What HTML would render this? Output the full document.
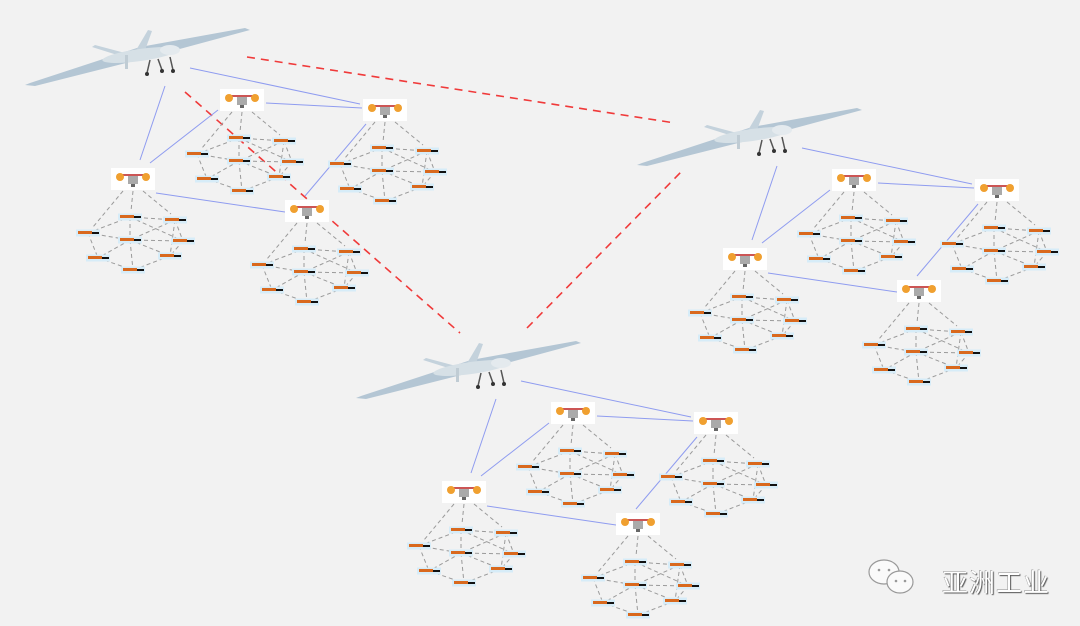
<!DOCTYPE html>
<html><head><meta charset="utf-8"><style>
html,body{margin:0;padding:0;background:#f2f2f2;width:1080px;height:626px;overflow:hidden}
svg{display:block}
.wm{position:absolute;left:942px;top:563px;font-family:"Liberation Sans","Noto Sans CJK SC",sans-serif;font-size:26px;color:#fff;text-shadow:1px 1px 1px #555,-0.5px -0.5px 0 #888;letter-spacing:1px}
</style></head><body>
<svg id="s" width="1080" height="626" xmlns="http://www.w3.org/2000/svg">
<defs>
<g id="plane">
 <polygon points="-105,30 -100,28 10,-8 115,-27 120,-25 20,2 -95,31" fill="#b4c6d4"/>
 <polygon points="-35,-10 -5,-2 0,4 -38,-8" fill="#c4d2dc"/>
 <polygon points="5,-3 18,-25 22,-24 14,-2" fill="#c4d2dc"/>
 <ellipse cx="10" cy="0" rx="38" ry="6" fill="#d6e0e6" transform="rotate(-8 10 0)"/>
 <ellipse cx="40" cy="-5" rx="10" ry="5" fill="#e4eaee"/>
 <line x1="20" y1="5" x2="17" y2="18" stroke="#555" stroke-width="1.5"/>
 <line x1="28" y1="4" x2="32" y2="15" stroke="#555" stroke-width="1.5"/>
 <line x1="40" y1="2" x2="43" y2="15" stroke="#555" stroke-width="1.5"/>
 <circle cx="17" cy="19" r="2" fill="#333"/><circle cx="32" cy="16" r="2" fill="#333"/><circle cx="43" cy="16" r="2" fill="#333"/>
 <rect x="-5" y="0" width="3" height="14" fill="#c0ccd4"/>
</g>
<g id="quad">
 <rect x="-22" y="-11" width="44" height="22" fill="#fff"/>
 <rect x="-16" y="-5" width="32" height="2" fill="#c55"/>
 <circle cx="-13" cy="-2" r="4" fill="#f0a030"/><circle cx="13" cy="-2" r="4" fill="#f0a030"/>
 <rect x="-5" y="-3" width="10" height="8" fill="#aaa"/>
 <rect x="-2" y="5" width="4" height="3" fill="#666"/>
</g>
<g id="bot">
 <rect x="-12" y="-3.5" width="24" height="7" fill="#d6ecf8"/>
 <rect x="-10" y="-2" width="14" height="3" fill="#d9691e"/>
 <rect x="4" y="-1" width="7" height="2" fill="#111"/>
</g>
</defs>
<g id="root"></g>
<g fill="#fafafa" stroke="#999" stroke-width="1.2">
 <ellipse cx="884" cy="572" rx="15" ry="12"/>
 <ellipse cx="900" cy="582" rx="13" ry="11"/>
 <circle cx="879" cy="570" r="1.3" fill="#999" stroke="none"/><circle cx="889" cy="570" r="1.3" fill="#999" stroke="none"/>
 <circle cx="896" cy="581" r="1.3" fill="#999" stroke="none"/><circle cx="905" cy="581" r="1.3" fill="#999" stroke="none"/>
</g>
</svg>
<div class="wm">亚洲工业</div>
<script>
var root=document.getElementById('root'),h='';
function L(a,b,c,d,st){h+='<line x1="'+a+'" y1="'+b+'" x2="'+c+'" y2="'+d+'" '+st+'/>';}
var B='stroke="#8f9cf0" stroke-width="1"',G='stroke="#9a9a9a" stroke-width="1" stroke-dasharray="4,3"',R='stroke="#f03a3a" stroke-width="1.6" stroke-dasharray="8,6"';
var bots=[[-45,54],[-3,38],[42,41],[-3,61],[50,62],[-35,79],[37,77],[0,91]];
var mesh=[[0,1],[0,3],[1,2],[1,3],[1,4],[2,4],[2,3],[3,4],[3,5],[3,6],[3,7],[4,6],[5,7],[6,7],[0,5],[2,6]];
function cluster(x,y){
 L(x-10,y+12,x-40,y+48,G);L(x,y+12,x-2,y+32,G);L(x+10,y+12,x+38,y+35,G);
 mesh.forEach(function(m){var a=bots[m[0]],b=bots[m[1]];L(x+a[0],y+a[1],x+b[0],y+b[1],G);});
 bots.forEach(function(p){h+='<use href="#bot" x="'+(x+p[0])+'" y="'+(y+p[1])+'"/>';});
 h+='<use href="#quad" x="'+x+'" y="'+y+'"/>';
}
function group(ox,oy){
 var q=[[242,100],[385,110],[133,179],[307,211]].map(function(p){return [p[0]+ox,p[1]+oy];});
 L(165+ox,86+oy,140+ox,160+oy,B);L(190+ox,68+oy,360+ox,104+oy,B);
 L(218+ox,110+oy,150+ox,163+oy,B);L(266+ox,103+oy,362+ox,108+oy,B);
 L(156+ox,193+oy,285+ox,212+oy,B);L(366+ox,124+oy,305+ox,196+oy,B);
 q.forEach(function(p){cluster(p[0],p[1]);});
 h+='<use href="#plane" x="'+(130+ox)+'" y="'+(55+oy)+'"/>';
}
L(247,57,675,123,R);L(185,92,460,333,R);L(527,328,683,170,R);
group(0,0);group(612,80);group(331,313);
root.innerHTML=h;
</script>
</body></html>
